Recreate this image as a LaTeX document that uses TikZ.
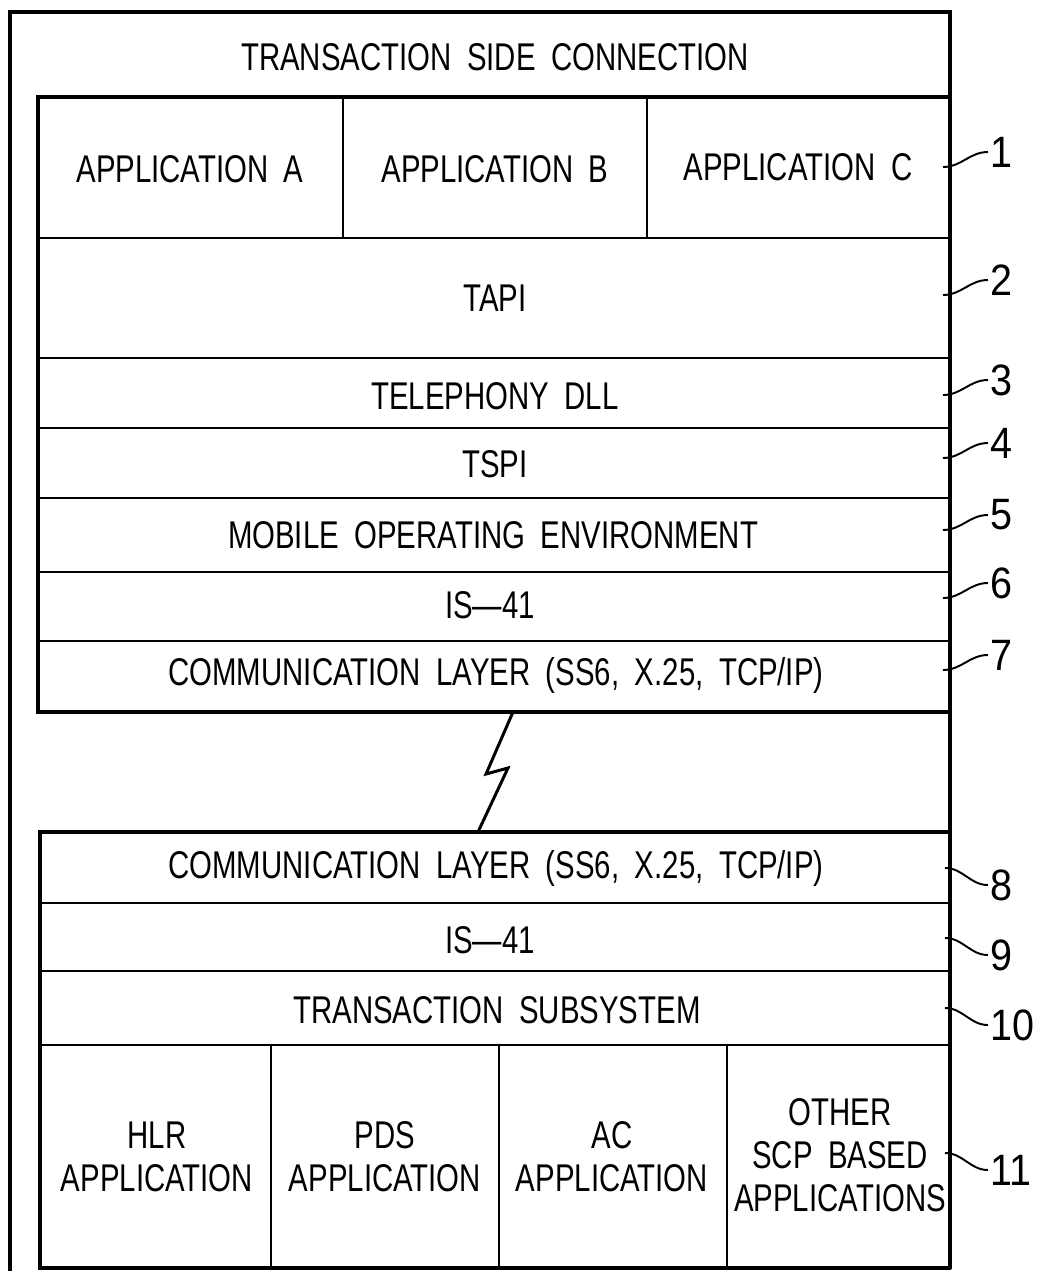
\documentclass[tikz,border=0pt]{standalone}
\usepackage{fontspec}
\setmainfont{Liberation Sans}[FakeStretch=0.76, WordSpace=1.9]
\newfontfamily\numfont{Liberation Sans}[FakeStretch=0.9]
\usetikzlibrary{positioning}
\tikzset{
  frame/.style={line width=2pt, line cap=round},
  divider/.style={line width=1.3pt},
  lbl/.style={font=\fontsize{22}{24.5}\selectfont, align=center, inner sep=1pt},
  refnum/.style={font=\numfont\fontsize{25}{27}\selectfont, anchor=west, inner sep=1pt},
  leader/.style={line width=1.1pt},
  bolt/.style={line width=1.7pt, line join=miter}
}

\begin{document}
\begin{tikzpicture}[x=0.02cm, y=-0.02cm]
  \useasboundingbox (0,0) rectangle (1038,1271);
  % Outer frame (transaction side)
  \draw[frame] (10,1271) -- (10,12) -- (950,12) -- (950,1268);
  \node[lbl] (title) at (495,57) {TRANSACTION SIDE CONNECTION};
  % Upper stack
  \draw[frame] (950,97) -- (38,97) -- (38,712) -- (950,712);
  \foreach \y in {238,358,428,498,572,641}
    \draw[divider] (38,\y) -- (950,\y);
  \draw[divider] (343,97) -- (343,238);
  \draw[divider] (647,97) -- (647,238);
  \node[lbl] (appa) at (190,169) {APPLICATION A};
  \node[lbl] (appb) at (495,169) {APPLICATION B};
  \node[lbl] (appc) at (798,167) {APPLICATION C};
  \node[lbl] (tapi) at (495,298) {TAPI};
  \node[lbl] (tdll) at (495,396) {TELEPHONY DLL};
  \node[lbl] (tspi) at (495,464) {TSPI};
  \node[lbl] (moe) at (493,535) {MOBILE OPERATING ENVIRONMENT};
  \node[lbl] (isa) at (490,605) {IS---41};
  \node[lbl] (comma) at (496,675) {COMMUNICATION LAYER (SS6, X.25, TCP/IP)};
  % Wireless link
  \coordinate (zt) at (513,712);
  \coordinate (zb) at (478,832);
  \draw[bolt] (zt) -- (486,774) -- (508,768) -- (zb);
  % Lower stack
  \draw[frame] (950,832) -- (40,832) -- (40,1268) -- (950,1268);
  \foreach \y in {903,971,1045}
    \draw[divider] (40,\y) -- (950,\y);
  \foreach \x in {271,499,727}
    \draw[divider] (\x,1045) -- (\x,1268);
  \node[lbl] (commb) at (496,868) {COMMUNICATION LAYER (SS6, X.25, TCP/IP)};
  \node[lbl] (isb) at (490,940) {IS---41};
  \node[lbl] (tsub) at (497,1010) {TRANSACTION SUBSYSTEM};
  \node[lbl] (hlr) at (157,1157) {HLR\\APPLICATION};
  \node[lbl] (pds) at (385,1157) {PDS\\APPLICATION};
  \node[lbl] (ac) at (612,1157) {AC\\APPLICATION};
  \node[lbl] (other) at (840,1155) {OTHER\\SCP BASED\\APPLICATIONS};
  % Reference numerals
  \foreach \n/\y in {1/152, 2/280, 3/380, 4/443, 5/515, 6/583, 7/655} {
    \node[refnum] (n\n) at (988,\y) {\n};
    \coordinate (c\n) at (943,\y+15);
    \draw[leader] (c\n) to[out=0, in=180] (n\n.west);
  }
  \foreach \n/\y in {8/885, 9/955, 10/1025, 11/1170} {
    \node[refnum] (n\n) at (988,\y) {\n};
    \coordinate (c\n) at (945,\y-17);
    \draw[leader] (c\n) to[out=0, in=180] (n\n.west);
  }
\end{tikzpicture}
\end{document}
